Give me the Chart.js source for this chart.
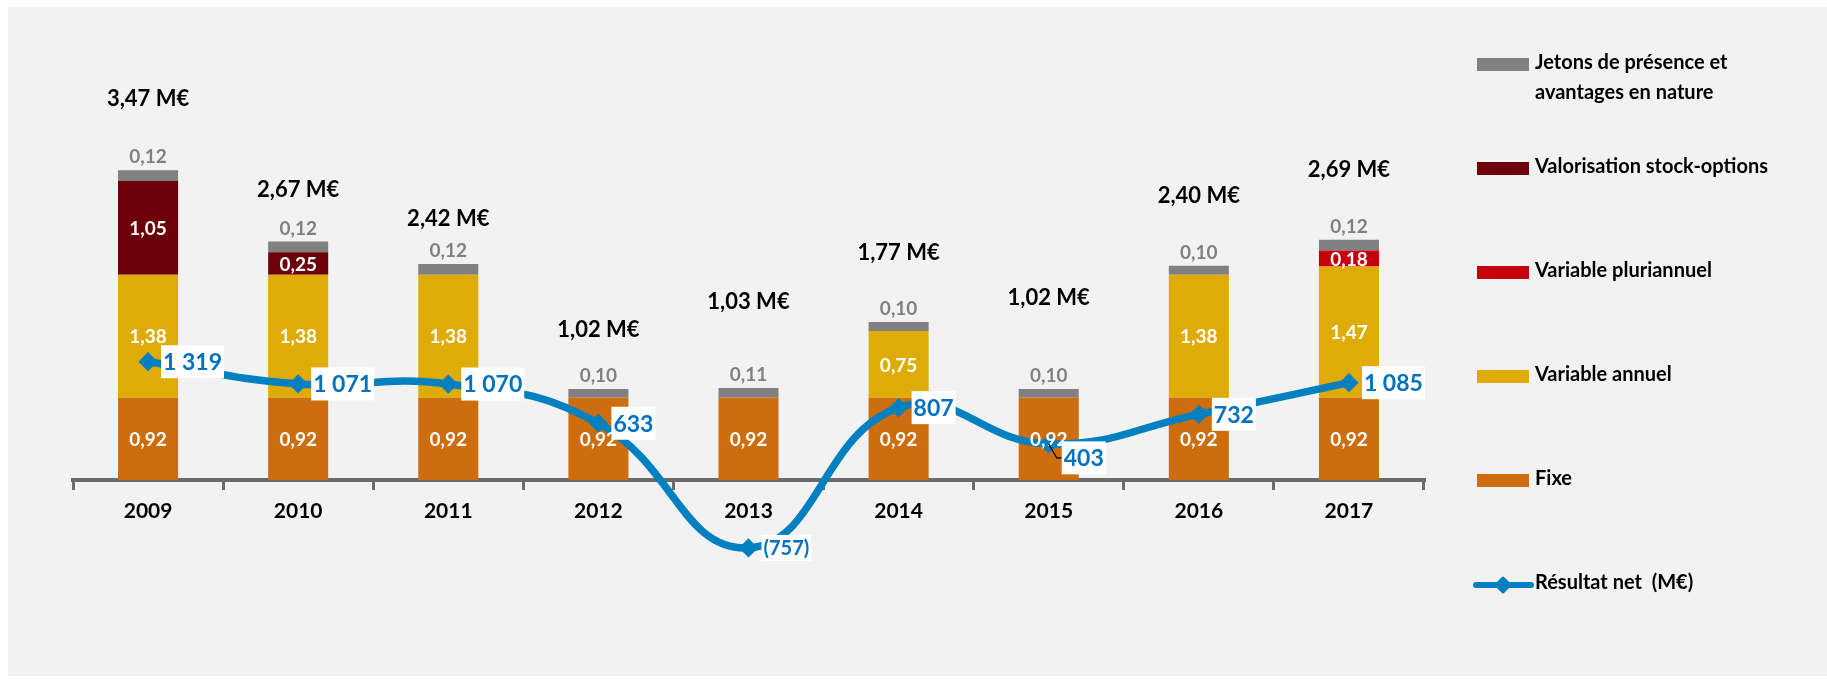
<!DOCTYPE html>
<html><head><meta charset="utf-8">
<script src="https://cdn.jsdelivr.net/npm/chart.js@4.4.0/dist/chart.umd.min.js"></script>
<style>html,body{margin:0;padding:0;background:#fff;} canvas{display:block;}</style>
</head><body>
<canvas id="c" width="1827" height="679"></canvas>
<script>
// ---- data ----
const years = ['2009','2010','2011','2012','2013','2014','2015','2016','2017'];
const fixe = [0.92,0.92,0.92,0.92,0.92,0.92,0.92,0.92,0.92];
const variableAnnuel = [1.38,1.38,1.38,null,null,0.75,null,1.38,1.47];
const variablePluriannuel = [null,null,null,null,null,null,null,null,0.18];
const stockOptions = [1.05,0.25,null,null,null,null,null,null,null];
const jetons = [0.12,0.12,0.12,0.10,0.11,0.10,0.10,0.10,0.12];
const resultatNet = [1319,1071,1070,633,-757,807,403,732,1085];

const FONT = 'Lato, "Open Sans", sans-serif';

function fmtDec(v){ return v.toFixed(2).replace('.', ','); }
function fmtInt(v){
  const a = Math.abs(Math.round(v)).toString().replace(/\B(?=(\d{3})+(?!\d))/g, ' ');
  return v < 0 ? '(' + a + ')' : a;
}

const bgPlugin = {
  id: 'bg',
  beforeDraw(chart){
    const ctx = chart.ctx;
    ctx.save();
    ctx.fillStyle = '#ffffff';
    ctx.fillRect(0,0,chart.width,chart.height);
    ctx.fillStyle = '#f2f2f2';
    ctx.fillRect(8,7,chart.width-8,chart.height-10);
    ctx.restore();
  }
};

const labelPlugin = {
  id: 'labels',
  afterDatasetsDraw(chart, args, opts){
    const ctx = chart.ctx;
    const ds = chart.data.datasets;
    ctx.save();
    ctx.textAlign = 'center';
    ctx.textBaseline = 'middle';
    // bar segment labels
    ds.forEach((d, i) => {
      if (d.type === 'line') return;
      const meta = chart.getDatasetMeta(i);
      meta.data.forEach((el, j) => {
        const v = d.data[j];
        if (v == null || v === 0) return;
        ctx.font = 'bold 19px ' + FONT;
        if (d.isTop) {
          ctx.fillStyle = '#808080';
          ctx.fillText(fmtDec(v), el.x, el.y - 13);
        } else {
          ctx.fillStyle = '#ffffff';
          ctx.fillText(fmtDec(v), el.x, (el.y + el.base) / 2 + 1);
        }
      });
    });
    // totals
    const topIdx = ds.findIndex(d => d.isTop);
    const topMeta = chart.getDatasetMeta(topIdx);
    ctx.fillStyle = '#000000';
    ctx.font = 'bold 22px ' + FONT;
    years.forEach((y, j) => {
      let s = 0;
      ds.forEach(d => { if (d.type !== 'line' && d.data[j] != null) s += d.data[j]; });
      const el = topMeta.data[j];
      ctx.fillText(fmtDec(s) + ' M€', el.x, el.y - opts.totalOffsets[j]);
    });
    // line labels
    const li = ds.findIndex(d => d.type === 'line');
    const lm = chart.getDatasetMeta(li);
    lm.data.forEach((el, j) => {
      const v = ds[li].data[j];
      const txt = fmtInt(v);
      const fs = v < 0 ? 20 : 23;
      ctx.font = 'bold ' + fs + 'px ' + FONT;
      const w = ctx.measureText(txt).width;
      const dy = opts.lineDy[j] || 0;
      const bx = el.x + 13, by = el.y + dy;
      const bh = v < 0 ? 26 : 33;
      if (dy) {
        ctx.strokeStyle = '#000';
        ctx.lineWidth = 1.2;
        ctx.beginPath();
        ctx.moveTo(el.x, el.y);
        ctx.lineTo(el.x + 8, by);
        ctx.lineTo(bx, by);
        ctx.stroke();
      }
      ctx.fillStyle = '#ffffff';
      ctx.fillRect(bx, by - bh / 2, w + 4, bh);
      ctx.fillStyle = '#0070c0';
      ctx.textAlign = 'left';
      ctx.fillText(txt, bx + 2, by + 1);
      ctx.textAlign = 'center';
    });
    ctx.restore();
  }
};

const legendPlugin = {
  id: 'customLegend',
  afterDraw(chart){
    const ctx = chart.ctx;
    const ds = chart.data.datasets;
    const items = [];
    for (let i = ds.length - 1; i >= 0; i--) if (ds[i].type !== 'line') items.push(ds[i]);
    ds.forEach(d => { if (d.type === 'line') items.push(d); });
    ctx.save();
    ctx.font = 'bold 20px ' + FONT;
    ctx.textBaseline = 'middle';
    ctx.textAlign = 'left';
    items.forEach((d, k) => {
      const cy = 65 + k * 104;
      if (d.type === 'line') {
        ctx.strokeStyle = d.borderColor;
        ctx.lineWidth = 6;
        ctx.lineCap = 'round';
        ctx.beginPath(); ctx.moveTo(1476, cy); ctx.lineTo(1531, cy); ctx.stroke();
        ctx.fillStyle = d.borderColor;
        ctx.lineJoin = 'round';
        ctx.lineWidth = 3;
        ctx.beginPath();
        ctx.moveTo(1503, cy - 7); ctx.lineTo(1510, cy); ctx.lineTo(1503, cy + 7); ctx.lineTo(1496, cy);
        ctx.closePath(); ctx.fill(); ctx.stroke();
      } else {
        ctx.fillStyle = d.backgroundColor;
        ctx.fillRect(1477, cy - 7, 52, 13);
      }
      ctx.fillStyle = '#000';
      const lines = d.label.split('\n');
      lines.forEach((t, n) => ctx.fillText(t, 1535, cy - 2 + n * 30));
    });
    ctx.restore();
  }
};

new Chart(document.getElementById('c'), {
  data: {
    labels: years,
    datasets: [
      { type: 'line', label: 'Résultat net  (M€)', data: resultatNet, yAxisID: 'y2', order: 0,
        borderColor: '#0080c0', backgroundColor: '#0080c0', borderWidth: 7.5, tension: 0.45,
        pointStyle: 'rectRot', pointRadius: 7.5, pointBorderWidth: 3, pointBackgroundColor: '#0080c0',
        pointBorderColor: '#0080c0',
        borderCapStyle: 'round', borderJoinStyle: 'round', clip: false },
      { type: 'bar', label: 'Fixe', data: fixe, backgroundColor: '#cd6d0d', order: 1, stack: 's' },
      { type: 'bar', label: 'Variable annuel', data: variableAnnuel, backgroundColor: '#dfab06', order: 1, stack: 's' },
      { type: 'bar', label: 'Variable pluriannuel', data: variablePluriannuel, backgroundColor: '#c5000c', order: 1, stack: 's' },
      { type: 'bar', label: 'Valorisation stock-options', data: stockOptions, backgroundColor: '#6c000a', order: 1, stack: 's' },
      { type: 'bar', label: 'Jetons de présence et\navantages en nature', data: jetons, backgroundColor: '#808080', order: 1, stack: 's', isTop: true }
    ]
  },
  options: {
    responsive: false,
    animation: false,
    devicePixelRatio: 1,
    layout: { padding: { left: 73, right: 403, top: 105, bottom: 109.7 } },
    datasets: { bar: { categoryPercentage: 0.8, barPercentage: 0.5 } },
    scales: {
      x: {
        stacked: true,
        position: { y: 0 },
        grid: { offset: true, drawOnChartArea: false, drawTicks: true, tickLength: 8, color: '#6b6b6b', lineWidth: 3 },
        border: { display: true, color: '#6b6b6b', width: 4 },
        ticks: { color: '#000', padding: 11, font: { family: FONT, size: 21, weight: 'bold' } }
      },
      y: { stacked: true, display: false, min: -1.0, max: 4.2 },
      y2: { display: false, position: 'right', min: -995.5, max: 4181 }
    },
    plugins: {
      legend: { display: false },
      tooltip: { enabled: false },
      labels: { totalOffsets: [71,52,45,59,86,69,91,70,70], lineDy: [0,0,0,0,0,0,14,0,0] }
    }
  },
  plugins: [bgPlugin, labelPlugin, legendPlugin]
});
</script>
</body></html>
